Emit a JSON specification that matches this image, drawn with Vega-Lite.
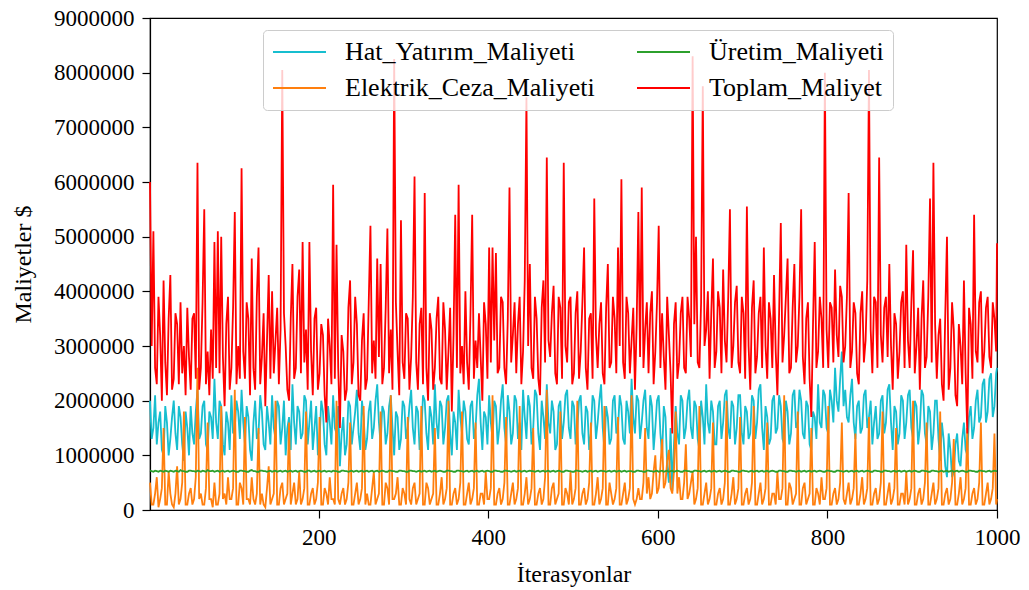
{
"$schema":"https://vega.github.io/schema/vega-lite/v6.json",
"width":847,"height":492,
"autosize":{"type":"none"},
"padding":{"left":150,"top":18,"right":32,"bottom":80},
"data":{"values":[
{"i":1,"hat":2.0e6,"ceza":5e5,"uret":7.2e5,"top":6.0e6},
{"i":3,"hat":1.3e6,"ceza":1e5,"uret":7.1e5,"top":3.0e6},
{"i":5,"hat":1.5e6,"ceza":1e5,"uret":7.0e5,"top":5.1e6},
{"i":7,"hat":2.1e6,"ceza":3e5,"uret":7.2e5,"top":2.6e6},
{"i":9,"hat":1.2e6,"ceza":6e5,"uret":7.1e5,"top":2.3e6},
{"i":11,"hat":1.6e6,"ceza":5e4,"uret":7.0e5,"top":3.9e6},
{"i":13,"hat":1.8e6,"ceza":2e5,"uret":7.2e5,"top":3.2e6},
{"i":15,"hat":1.1e6,"ceza":4e5,"uret":7.1e5,"top":2.0e6},
{"i":17,"hat":1.0e6,"ceza":1.5e6,"uret":7.0e5,"top":4.2e6},
{"i":19,"hat":1.9e6,"ceza":1e5,"uret":7.2e5,"top":2.7e6},
{"i":21,"hat":1.6e6,"ceza":1e5,"uret":7.1e5,"top":2.1e6},
{"i":23,"hat":1.0e6,"ceza":7e5,"uret":7.0e5,"top":3.5e6},
{"i":25,"hat":1.3e6,"ceza":3e5,"uret":7.2e5,"top":4.3e6},
{"i":27,"hat":1.7e6,"ceza":1e5,"uret":7.1e5,"top":2.2e6},
{"i":29,"hat":2.0e6,"ceza":5e4,"uret":7.0e5,"top":2.4e6},
{"i":31,"hat":1.4e6,"ceza":3e5,"uret":7.2e5,"top":3.6e6},
{"i":33,"hat":1.1e6,"ceza":8e5,"uret":7.1e5,"top":3.4e6},
{"i":35,"hat":1.9e6,"ceza":1e5,"uret":7.0e5,"top":2.3e6},
{"i":37,"hat":1.7e6,"ceza":2e5,"uret":7.3e5,"top":3.8e6},
{"i":39,"hat":1.2e6,"ceza":5e5,"uret":7.1e5,"top":2.5e6},
{"i":41,"hat":0.9e6,"ceza":1.8e6,"uret":7.1e5,"top":3.0e6},
{"i":43,"hat":1.8e6,"ceza":1e5,"uret":7.0e5,"top":2.1e6},
{"i":45,"hat":1.5e6,"ceza":1e5,"uret":7.0e5,"top":3.7e6},
{"i":47,"hat":1.0e6,"ceza":3e5,"uret":7.2e5,"top":2.8e6},
{"i":49,"hat":1.9e6,"ceza":4e5,"uret":7.2e5,"top":2.2e6},
{"i":51,"hat":1.4e6,"ceza":1e5,"uret":7.1e5,"top":3.5e6},
{"i":53,"hat":1.2e6,"ceza":2e5,"uret":7.1e5,"top":3.6e6},
{"i":55,"hat":1.8e6,"ceza":6e5,"uret":7.0e5,"top":2.4e6},
{"i":57,"hat":2.2e6,"ceza":2.6e6,"uret":7.2e5,"top":6.35e6},
{"i":59,"hat":1.3e6,"ceza":2e5,"uret":7.1e5,"top":2.2e6},
{"i":61,"hat":1.4e6,"ceza":3e5,"uret":7.0e5,"top":2.6e6},
{"i":63,"hat":1.9e6,"ceza":1e5,"uret":7.2e5,"top":3.8e6},
{"i":65,"hat":2.0e6,"ceza":1e5,"uret":7.1e5,"top":5.5e6},
{"i":67,"hat":1.2e6,"ceza":4e5,"uret":7.0e5,"top":2.3e6},
{"i":69,"hat":1.1e6,"ceza":1.6e6,"uret":7.3e5,"top":2.9e6},
{"i":71,"hat":1.8e6,"ceza":2e5,"uret":7.1e5,"top":2.1e6},
{"i":73,"hat":1.7e6,"ceza":2e5,"uret":7.1e5,"top":3.3e6},
{"i":75,"hat":1.3e6,"ceza":5e4,"uret":7.2e5,"top":2.4e6},
{"i":77,"hat":2.4e6,"ceza":5e5,"uret":7.0e5,"top":4.9e6},
{"i":79,"hat":1.6e6,"ceza":1e5,"uret":7.1e5,"top":2.6e6},
{"i":81,"hat":1.3e6,"ceza":1e5,"uret":7.2e5,"top":5.1e6},
{"i":83,"hat":2.0e6,"ceza":3e5,"uret":7.0e5,"top":2.5e6},
{"i":85,"hat":1.9e6,"ceza":1.9e6,"uret":7.1e5,"top":5.0e6},
{"i":87,"hat":1.2e6,"ceza":2e5,"uret":7.2e5,"top":2.8e6},
{"i":89,"hat":1.0e6,"ceza":3e5,"uret":7.0e5,"top":1.9e6},
{"i":91,"hat":1.8e6,"ceza":1e5,"uret":7.1e5,"top":3.4e6},
{"i":93,"hat":1.6e6,"ceza":6e5,"uret":7.2e5,"top":3.9e6},
{"i":95,"hat":1.1e6,"ceza":2e5,"uret":7.0e5,"top":2.2e6},
{"i":97,"hat":2.1e6,"ceza":2e5,"uret":7.1e5,"top":2.6e6},
{"i":99,"hat":1.4e6,"ceza":4e5,"uret":7.2e5,"top":3.7e6},
{"i":101,"hat":1.5e6,"ceza":2.2e6,"uret":7.1e5,"top":5.45e6},
{"i":103,"hat":2.0e6,"ceza":1e5,"uret":7.0e5,"top":2.3e6},
{"i":105,"hat":1.8e6,"ceza":1e5,"uret":7.0e5,"top":3.0e6},
{"i":107,"hat":1.3e6,"ceza":5e5,"uret":7.2e5,"top":2.4e6},
{"i":109,"hat":2.2e6,"ceza":4e5,"uret":7.2e5,"top":6.25e6},
{"i":111,"hat":1.6e6,"ceza":1e5,"uret":7.1e5,"top":2.9e6},
{"i":113,"hat":1.2e6,"ceza":1.7e6,"uret":7.1e5,"top":2.4e6},
{"i":115,"hat":1.9e6,"ceza":2e5,"uret":7.0e5,"top":3.8e6},
{"i":117,"hat":1.7e6,"ceza":2e5,"uret":7.0e5,"top":3.5e6},
{"i":119,"hat":1.1e6,"ceza":1e5,"uret":7.2e5,"top":2.1e6},
{"i":121,"hat":0.9e6,"ceza":6e5,"uret":7.3e5,"top":4.6e6},
{"i":123,"hat":1.6e6,"ceza":2e5,"uret":7.1e5,"top":2.6e6},
{"i":125,"hat":2.0e6,"ceza":1e5,"uret":7.1e5,"top":2.2e6},
{"i":127,"hat":1.3e6,"ceza":3e5,"uret":7.0e5,"top":3.9e6},
{"i":129,"hat":1.4e6,"ceza":1.5e6,"uret":7.0e5,"top":4.8e6},
{"i":131,"hat":2.1e6,"ceza":1e5,"uret":7.2e5,"top":2.3e6},
{"i":133,"hat":1.8e6,"ceza":3e5,"uret":7.2e5,"top":2.8e6},
{"i":135,"hat":1.2e6,"ceza":1e5,"uret":7.1e5,"top":3.6e6},
{"i":137,"hat":1.1e6,"ceza":5e4,"uret":7.1e5,"top":1.9e6},
{"i":139,"hat":1.9e6,"ceza":4e5,"uret":7.0e5,"top":3.1e6},
{"i":141,"hat":1.6e6,"ceza":8e5,"uret":7.1e5,"top":4.3e6},
{"i":143,"hat":1.2e6,"ceza":1e5,"uret":7.2e5,"top":2.4e6},
{"i":145,"hat":2.1e6,"ceza":2e5,"uret":7.0e5,"top":4.0e6},
{"i":147,"hat":1.5e6,"ceza":3e5,"uret":7.1e5,"top":2.5e6},
{"i":149,"hat":1.3e6,"ceza":2.0e6,"uret":7.2e5,"top":3.1e6},
{"i":151,"hat":2.0e6,"ceza":1e5,"uret":7.0e5,"top":3.7e6},
{"i":153,"hat":1.9e6,"ceza":1e5,"uret":7.1e5,"top":2.3e6},
{"i":155,"hat":1.2e6,"ceza":4e5,"uret":7.2e5,"top":3.3e6},
{"i":157,"hat":1.5e6,"ceza":5e5,"uret":7.0e5,"top":8.05e6},
{"i":159,"hat":2.0e6,"ceza":1e5,"uret":7.1e5,"top":3.6e6},
{"i":161,"hat":1.0e6,"ceza":2e5,"uret":7.2e5,"top":3.0e6},
{"i":163,"hat":1.5e6,"ceza":3e5,"uret":7.0e5,"top":2.2e6},
{"i":165,"hat":1.7e6,"ceza":1.6e6,"uret":7.1e5,"top":2.0e6},
{"i":167,"hat":1.1e6,"ceza":1e5,"uret":7.2e5,"top":3.5e6},
{"i":169,"hat":2.3e6,"ceza":3e5,"uret":7.0e5,"top":4.5e6},
{"i":171,"hat":1.6e6,"ceza":5e5,"uret":7.1e5,"top":2.4e6},
{"i":173,"hat":1.2e6,"ceza":1e5,"uret":7.2e5,"top":2.6e6},
{"i":175,"hat":1.9e6,"ceza":2e5,"uret":7.0e5,"top":3.9e6},
{"i":177,"hat":1.8e6,"ceza":7e5,"uret":7.1e5,"top":4.4e6},
{"i":179,"hat":1.3e6,"ceza":1e5,"uret":7.2e5,"top":2.5e6},
{"i":181,"hat":1.4e6,"ceza":2e5,"uret":7.1e5,"top":4.9e6},
{"i":183,"hat":2.1e6,"ceza":4e5,"uret":7.0e5,"top":2.7e6},
{"i":185,"hat":2.0e6,"ceza":1.8e6,"uret":7.0e5,"top":3.3e6},
{"i":187,"hat":1.2e6,"ceza":1e5,"uret":7.2e5,"top":2.2e6},
{"i":189,"hat":1.6e6,"ceza":1e5,"uret":7.2e5,"top":4.9e6},
{"i":191,"hat":2.0e6,"ceza":3e5,"uret":7.0e5,"top":2.9e6},
{"i":193,"hat":1.1e6,"ceza":4e5,"uret":7.1e5,"top":2.1e6},
{"i":195,"hat":1.5e6,"ceza":1e5,"uret":7.2e5,"top":3.5e6},
{"i":197,"hat":1.9e6,"ceza":2e5,"uret":7.0e5,"top":3.7e6},
{"i":199,"hat":1.0e6,"ceza":5e5,"uret":7.1e5,"top":2.2e6},
{"i":201,"hat":1.3e6,"ceza":1.7e6,"uret":7.2e5,"top":2.5e6},
{"i":203,"hat":2.0e6,"ceza":1e5,"uret":7.0e5,"top":3.4e6},
{"i":205,"hat":1.8e6,"ceza":1e5,"uret":7.1e5,"top":3.2e6},
{"i":207,"hat":1.2e6,"ceza":4e5,"uret":7.2e5,"top":2.1e6},
{"i":209,"hat":1.0e6,"ceza":3e5,"uret":7.0e5,"top":1.6e6},
{"i":211,"hat":1.9e6,"ceza":1e5,"uret":7.1e5,"top":3.5e6},
{"i":213,"hat":1.6e6,"ceza":6e5,"uret":7.1e5,"top":3.0e6},
{"i":215,"hat":1.2e6,"ceza":2e5,"uret":7.0e5,"top":2.3e6},
{"i":217,"hat":2.1e6,"ceza":2e5,"uret":7.2e5,"top":5.95e6},
{"i":219,"hat":1.5e6,"ceza":1e5,"uret":7.1e5,"top":2.4e6},
{"i":221,"hat":1.4e6,"ceza":2.0e6,"uret":7.1e5,"top":4.85e6},
{"i":223,"hat":1.9e6,"ceza":2e5,"uret":7.0e5,"top":2.6e6},
{"i":225,"hat":0.8e6,"ceza":1e5,"uret":7.0e5,"top":1.5e6},
{"i":227,"hat":1.4e6,"ceza":3e5,"uret":7.2e5,"top":3.2e6},
{"i":229,"hat":1.7e6,"ceza":4e5,"uret":7.2e5,"top":2.9e6},
{"i":231,"hat":1.0e6,"ceza":1e5,"uret":7.1e5,"top":2.0e6},
{"i":233,"hat":1.2e6,"ceza":2e5,"uret":7.1e5,"top":2.2e6},
{"i":235,"hat":2.0e6,"ceza":5e5,"uret":7.0e5,"top":3.7e6},
{"i":237,"hat":1.9e6,"ceza":1.6e6,"uret":7.1e5,"top":4.2e6},
{"i":239,"hat":1.2e6,"ceza":1e5,"uret":7.2e5,"top":2.3e6},
{"i":241,"hat":1.5e6,"ceza":1e5,"uret":7.0e5,"top":2.7e6},
{"i":243,"hat":1.8e6,"ceza":3e5,"uret":7.1e5,"top":3.9e6},
{"i":245,"hat":2.2e6,"ceza":5e5,"uret":7.2e5,"top":3.4e6},
{"i":247,"hat":1.4e6,"ceza":1e5,"uret":7.0e5,"top":2.1e6},
{"i":249,"hat":1.1e6,"ceza":2e5,"uret":7.1e5,"top":2.0e6},
{"i":251,"hat":2.0e6,"ceza":4e5,"uret":7.2e5,"top":3.1e6},
{"i":253,"hat":1.7e6,"ceza":1.9e6,"uret":7.0e5,"top":3.6e6},
{"i":255,"hat":1.1e6,"ceza":1e5,"uret":7.1e5,"top":2.2e6},
{"i":257,"hat":1.3e6,"ceza":3e5,"uret":7.2e5,"top":2.4e6},
{"i":259,"hat":1.8e6,"ceza":1e5,"uret":7.0e5,"top":3.8e6},
{"i":261,"hat":2.0e6,"ceza":1e5,"uret":7.1e5,"top":5.2e6},
{"i":263,"hat":1.3e6,"ceza":4e5,"uret":7.2e5,"top":2.5e6},
{"i":265,"hat":1.5e6,"ceza":7e5,"uret":7.0e5,"top":3.1e6},
{"i":267,"hat":2.0e6,"ceza":1e5,"uret":7.1e5,"top":2.4e6},
{"i":269,"hat":2.3e6,"ceza":2e5,"uret":7.2e5,"top":4.6e6},
{"i":271,"hat":1.6e6,"ceza":3e5,"uret":7.0e5,"top":2.8e6},
{"i":273,"hat":1.2e6,"ceza":1.8e6,"uret":7.1e5,"top":4.5e6},
{"i":275,"hat":1.9e6,"ceza":1e5,"uret":7.2e5,"top":2.3e6},
{"i":277,"hat":1.8e6,"ceza":1e5,"uret":7.1e5,"top":2.6e6},
{"i":279,"hat":1.2e6,"ceza":5e5,"uret":7.0e5,"top":3.7e6},
{"i":281,"hat":1.4e6,"ceza":4e5,"uret":7.0e5,"top":5.15e6},
{"i":283,"hat":1.9e6,"ceza":1e5,"uret":7.2e5,"top":2.5e6},
{"i":285,"hat":2.1e6,"ceza":2.1e6,"uret":7.2e5,"top":3.3e6},
{"i":287,"hat":1.5e6,"ceza":2e5,"uret":7.1e5,"top":2.2e6},
{"i":289,"hat":1.0e6,"ceza":2e5,"uret":7.1e5,"top":8.25e6},
{"i":291,"hat":1.8e6,"ceza":3e5,"uret":7.0e5,"top":3.8e6},
{"i":293,"hat":1.7e6,"ceza":6e5,"uret":7.0e5,"top":2.9e6},
{"i":295,"hat":1.1e6,"ceza":1e5,"uret":7.2e5,"top":2.1e6},
{"i":297,"hat":1.3e6,"ceza":1e5,"uret":7.2e5,"top":5.3e6},
{"i":299,"hat":2.0e6,"ceza":4e5,"uret":7.1e5,"top":2.7e6},
{"i":301,"hat":1.9e6,"ceza":3e5,"uret":7.1e5,"top":2.4e6},
{"i":303,"hat":1.3e6,"ceza":1e5,"uret":7.0e5,"top":3.6e6},
{"i":305,"hat":1.5e6,"ceza":1.7e6,"uret":7.0e5,"top":3.5e6},
{"i":307,"hat":1.9e6,"ceza":2e5,"uret":7.2e5,"top":2.2e6},
{"i":309,"hat":2.2e6,"ceza":1e5,"uret":7.2e5,"top":2.8e6},
{"i":311,"hat":1.5e6,"ceza":4e5,"uret":7.1e5,"top":3.9e6},
{"i":313,"hat":1.2e6,"ceza":5e5,"uret":7.1e5,"top":6.1e6},
{"i":315,"hat":1.9e6,"ceza":1e5,"uret":7.0e5,"top":2.7e6},
{"i":317,"hat":1.8e6,"ceza":2e5,"uret":7.1e5,"top":2.2e6},
{"i":319,"hat":1.1e6,"ceza":3e5,"uret":7.2e5,"top":3.4e6},
{"i":321,"hat":1.4e6,"ceza":1.9e6,"uret":7.0e5,"top":3.7e6},
{"i":323,"hat":2.1e6,"ceza":1e5,"uret":7.1e5,"top":2.3e6},
{"i":325,"hat":2.0e6,"ceza":1e5,"uret":7.2e5,"top":5.8e6},
{"i":327,"hat":1.4e6,"ceza":5e5,"uret":7.0e5,"top":2.6e6},
{"i":329,"hat":1.1e6,"ceza":4e5,"uret":7.1e5,"top":2.0e6},
{"i":331,"hat":1.9e6,"ceza":1e5,"uret":7.2e5,"top":3.6e6},
{"i":333,"hat":1.7e6,"ceza":2e5,"uret":7.0e5,"top":3.3e6},
{"i":335,"hat":1.2e6,"ceza":3e5,"uret":7.1e5,"top":2.2e6},
{"i":337,"hat":2.3e6,"ceza":1.5e6,"uret":7.2e5,"top":2.6e6},
{"i":339,"hat":1.6e6,"ceza":1e5,"uret":7.0e5,"top":3.5e6},
{"i":341,"hat":1.3e6,"ceza":1e5,"uret":7.1e5,"top":3.9e6},
{"i":343,"hat":2.0e6,"ceza":3e5,"uret":7.2e5,"top":2.4e6},
{"i":345,"hat":1.9e6,"ceza":6e5,"uret":7.1e5,"top":2.3e6},
{"i":347,"hat":1.2e6,"ceza":1e5,"uret":7.0e5,"top":3.8e6},
{"i":349,"hat":1.5e6,"ceza":2e5,"uret":7.0e5,"top":3.3e6},
{"i":351,"hat":2.0e6,"ceza":4e5,"uret":7.2e5,"top":2.2e6},
{"i":353,"hat":2.1e6,"ceza":2.0e6,"uret":7.2e5,"top":2.9e6},
{"i":355,"hat":1.4e6,"ceza":1e5,"uret":7.1e5,"top":3.7e6},
{"i":357,"hat":1.0e6,"ceza":1e5,"uret":7.1e5,"top":1.8e6},
{"i":359,"hat":1.8e6,"ceza":3e5,"uret":7.0e5,"top":3.2e6},
{"i":361,"hat":1.6e6,"ceza":4e5,"uret":7.0e5,"top":5.4e6},
{"i":363,"hat":1.1e6,"ceza":1e5,"uret":7.2e5,"top":2.6e6},
{"i":365,"hat":2.2e6,"ceza":2e5,"uret":7.2e5,"top":5.95e6},
{"i":367,"hat":1.7e6,"ceza":5e5,"uret":7.1e5,"top":2.5e6},
{"i":369,"hat":1.4e6,"ceza":1.8e6,"uret":7.1e5,"top":3.0e6},
{"i":371,"hat":2.0e6,"ceza":1e5,"uret":7.0e5,"top":2.3e6},
{"i":373,"hat":1.8e6,"ceza":1e5,"uret":7.1e5,"top":4.0e6},
{"i":375,"hat":1.3e6,"ceza":3e5,"uret":7.2e5,"top":2.7e6},
{"i":377,"hat":1.2e6,"ceza":5e5,"uret":7.0e5,"top":2.2e6},
{"i":379,"hat":1.9e6,"ceza":1e5,"uret":7.1e5,"top":3.6e6},
{"i":381,"hat":2.0e6,"ceza":2e5,"uret":7.2e5,"top":5.4e6},
{"i":383,"hat":1.3e6,"ceza":4e5,"uret":7.0e5,"top":2.4e6},
{"i":385,"hat":1.5e6,"ceza":1.6e6,"uret":7.1e5,"top":3.1e6},
{"i":387,"hat":2.1e6,"ceza":1e5,"uret":7.2e5,"top":2.6e6},
{"i":389,"hat":2.4e6,"ceza":1e5,"uret":7.0e5,"top":3.6e6},
{"i":391,"hat":1.6e6,"ceza":3e5,"uret":7.1e5,"top":2.8e6},
{"i":393,"hat":1.1e6,"ceza":3e5,"uret":7.2e5,"top":2.0e6},
{"i":395,"hat":1.8e6,"ceza":1e5,"uret":7.0e5,"top":3.8e6},
{"i":397,"hat":1.7e6,"ceza":7e5,"uret":7.1e5,"top":3.4e6},
{"i":399,"hat":1.2e6,"ceza":2e5,"uret":7.2e5,"top":2.4e6},
{"i":401,"hat":2.1e6,"ceza":2e5,"uret":7.1e5,"top":4.8e6},
{"i":403,"hat":1.6e6,"ceza":4e5,"uret":7.0e5,"top":2.7e6},
{"i":405,"hat":1.3e6,"ceza":2.1e6,"uret":7.0e5,"top":4.8e6},
{"i":407,"hat":2.0e6,"ceza":1e5,"uret":7.2e5,"top":3.1e6},
{"i":409,"hat":1.9e6,"ceza":1e5,"uret":7.2e5,"top":4.7e6},
{"i":411,"hat":1.2e6,"ceza":3e5,"uret":7.1e5,"top":2.5e6},
{"i":413,"hat":1.5e6,"ceza":4e5,"uret":7.1e5,"top":2.6e6},
{"i":415,"hat":2.0e6,"ceza":1e5,"uret":7.0e5,"top":3.9e6},
{"i":417,"hat":2.3e6,"ceza":2e5,"uret":7.0e5,"top":3.8e6},
{"i":419,"hat":1.5e6,"ceza":5e5,"uret":7.2e5,"top":2.6e6},
{"i":421,"hat":1.2e6,"ceza":1.7e6,"uret":7.2e5,"top":2.3e6},
{"i":423,"hat":2.1e6,"ceza":1e5,"uret":7.1e5,"top":3.5e6},
{"i":425,"hat":1.8e6,"ceza":1e5,"uret":7.1e5,"top":5.9e6},
{"i":427,"hat":1.2e6,"ceza":3e5,"uret":7.0e5,"top":2.7e6},
{"i":429,"hat":1.4e6,"ceza":5e5,"uret":7.1e5,"top":3.2e6},
{"i":431,"hat":2.1e6,"ceza":1e5,"uret":7.2e5,"top":3.8e6},
{"i":433,"hat":2.0e6,"ceza":2e5,"uret":7.0e5,"top":2.5e6},
{"i":435,"hat":1.3e6,"ceza":4e5,"uret":7.1e5,"top":3.4e6},
{"i":437,"hat":1.6e6,"ceza":1.9e6,"uret":7.2e5,"top":3.9e6},
{"i":439,"hat":1.1e6,"ceza":1e5,"uret":7.0e5,"top":2.3e6},
{"i":441,"hat":2.2e6,"ceza":1e5,"uret":7.1e5,"top":2.9e6},
{"i":443,"hat":1.7e6,"ceza":3e5,"uret":7.2e5,"top":4.2e6},
{"i":445,"hat":1.3e6,"ceza":6e5,"uret":7.0e5,"top":7.55e6},
{"i":447,"hat":2.1e6,"ceza":1e5,"uret":7.1e5,"top":3.0e6},
{"i":449,"hat":1.9e6,"ceza":2e5,"uret":7.2e5,"top":4.5e6},
{"i":451,"hat":1.2e6,"ceza":4e5,"uret":7.1e5,"top":2.6e6},
{"i":453,"hat":1.5e6,"ceza":1.5e6,"uret":7.1e5,"top":2.4e6},
{"i":455,"hat":2.2e6,"ceza":1e5,"uret":7.0e5,"top":3.9e6},
{"i":457,"hat":2.1e6,"ceza":1e5,"uret":7.1e5,"top":3.5e6},
{"i":459,"hat":1.4e6,"ceza":3e5,"uret":7.2e5,"top":2.4e6},
{"i":461,"hat":1.1e6,"ceza":4e5,"uret":7.0e5,"top":2.1e6},
{"i":463,"hat":2.0e6,"ceza":1e5,"uret":7.1e5,"top":3.7e6},
{"i":465,"hat":1.7e6,"ceza":2e5,"uret":7.2e5,"top":4.2e6},
{"i":467,"hat":1.3e6,"ceza":6e5,"uret":7.0e5,"top":2.7e6},
{"i":469,"hat":2.3e6,"ceza":2.2e6,"uret":7.1e5,"top":6.45e6},
{"i":471,"hat":1.6e6,"ceza":1e5,"uret":7.2e5,"top":3.1e6},
{"i":473,"hat":1.4e6,"ceza":1e5,"uret":7.0e5,"top":2.8e6},
{"i":475,"hat":2.0e6,"ceza":4e5,"uret":7.1e5,"top":3.6e6},
{"i":477,"hat":1.8e6,"ceza":5e5,"uret":7.2e5,"top":4.1e6},
{"i":479,"hat":1.1e6,"ceza":1e5,"uret":7.0e5,"top":2.5e6},
{"i":481,"hat":1.2e6,"ceza":2e5,"uret":7.1e5,"top":2.3e6},
{"i":483,"hat":1.9e6,"ceza":3e5,"uret":7.2e5,"top":3.9e6},
{"i":485,"hat":2.0e6,"ceza":1.8e6,"uret":7.1e5,"top":3.7e6},
{"i":487,"hat":1.3e6,"ceza":1e5,"uret":7.0e5,"top":2.4e6},
{"i":489,"hat":1.6e6,"ceza":1e5,"uret":7.0e5,"top":6.35e6},
{"i":491,"hat":2.1e6,"ceza":4e5,"uret":7.2e5,"top":3.0e6},
{"i":493,"hat":2.2e6,"ceza":3e5,"uret":7.2e5,"top":2.7e6},
{"i":495,"hat":1.5e6,"ceza":1e5,"uret":7.1e5,"top":3.8e6},
{"i":497,"hat":1.3e6,"ceza":7e5,"uret":7.1e5,"top":3.9e6},
{"i":499,"hat":2.0e6,"ceza":1e5,"uret":7.0e5,"top":2.3e6},
{"i":501,"hat":1.9e6,"ceza":2e5,"uret":7.0e5,"top":2.5e6},
{"i":503,"hat":1.2e6,"ceza":4e5,"uret":7.2e5,"top":3.6e6},
{"i":505,"hat":1.5e6,"ceza":2.0e6,"uret":7.2e5,"top":4.0e6},
{"i":507,"hat":2.0e6,"ceza":1e5,"uret":7.1e5,"top":2.4e6},
{"i":509,"hat":2.1e6,"ceza":1e5,"uret":7.1e5,"top":2.9e6},
{"i":511,"hat":1.4e6,"ceza":3e5,"uret":7.0e5,"top":3.8e6},
{"i":513,"hat":1.2e6,"ceza":4e5,"uret":7.1e5,"top":4.8e6},
{"i":515,"hat":1.9e6,"ceza":1e5,"uret":7.2e5,"top":2.6e6},
{"i":517,"hat":1.8e6,"ceza":2e5,"uret":7.0e5,"top":2.2e6},
{"i":519,"hat":1.1e6,"ceza":5e5,"uret":7.1e5,"top":3.5e6},
{"i":521,"hat":1.4e6,"ceza":1.6e6,"uret":7.2e5,"top":3.6e6},
{"i":523,"hat":2.1e6,"ceza":1e5,"uret":7.0e5,"top":2.4e6},
{"i":525,"hat":2.0e6,"ceza":1e5,"uret":7.1e5,"top":5.7e6},
{"i":527,"hat":1.3e6,"ceza":3e5,"uret":7.2e5,"top":3.2e6},
{"i":529,"hat":1.6e6,"ceza":6e5,"uret":7.0e5,"top":2.6e6},
{"i":531,"hat":2.0e6,"ceza":1e5,"uret":7.1e5,"top":3.4e6},
{"i":533,"hat":2.3e6,"ceza":2e5,"uret":7.2e5,"top":3.8e6},
{"i":535,"hat":1.5e6,"ceza":4e5,"uret":7.1e5,"top":2.5e6},
{"i":537,"hat":1.1e6,"ceza":1.9e6,"uret":7.1e5,"top":2.3e6},
{"i":539,"hat":1.9e6,"ceza":1e5,"uret":7.0e5,"top":3.7e6},
{"i":541,"hat":1.7e6,"ceza":1e5,"uret":7.1e5,"top":4.5e6},
{"i":543,"hat":1.2e6,"ceza":5e5,"uret":7.2e5,"top":2.6e6},
{"i":545,"hat":1.3e6,"ceza":3e5,"uret":7.0e5,"top":2.7e6},
{"i":547,"hat":2.0e6,"ceza":1e5,"uret":7.1e5,"top":3.9e6},
{"i":549,"hat":2.1e6,"ceza":2e5,"uret":7.2e5,"top":3.5e6},
{"i":551,"hat":1.4e6,"ceza":4e5,"uret":7.0e5,"top":2.5e6},
{"i":553,"hat":1.5e6,"ceza":1.7e6,"uret":7.1e5,"top":4.8e6},
{"i":555,"hat":2.1e6,"ceza":1e5,"uret":7.2e5,"top":3.0e6},
{"i":557,"hat":1.9e6,"ceza":1e5,"uret":7.0e5,"top":6.05e6},
{"i":559,"hat":1.3e6,"ceza":3e5,"uret":7.1e5,"top":2.7e6},
{"i":561,"hat":1.2e6,"ceza":5e5,"uret":7.2e5,"top":2.4e6},
{"i":563,"hat":2.0e6,"ceza":1e5,"uret":7.0e5,"top":3.9e6},
{"i":565,"hat":1.8e6,"ceza":2e5,"uret":7.1e5,"top":3.6e6},
{"i":567,"hat":1.4e6,"ceza":4e5,"uret":7.1e5,"top":2.5e6},
{"i":569,"hat":2.4e6,"ceza":2.1e6,"uret":7.1e5,"top":3.1e6},
{"i":571,"hat":1.7e6,"ceza":2e5,"uret":7.0e5,"top":3.7e6},
{"i":573,"hat":1.4e6,"ceza":1e5,"uret":7.0e5,"top":2.2e6},
{"i":575,"hat":2.1e6,"ceza":2e5,"uret":7.2e5,"top":3.4e6},
{"i":577,"hat":2.0e6,"ceza":4e5,"uret":7.2e5,"top":5.45e6},
{"i":579,"hat":1.3e6,"ceza":2e5,"uret":7.1e5,"top":2.8e6},
{"i":581,"hat":1.6e6,"ceza":2e5,"uret":7.1e5,"top":5.9e6},
{"i":583,"hat":2.0e6,"ceza":5e5,"uret":7.0e5,"top":2.6e6},
{"i":585,"hat":2.2e6,"ceza":1.5e6,"uret":7.0e5,"top":3.3e6},
{"i":587,"hat":1.5e6,"ceza":3e5,"uret":7.2e5,"top":3.8e6},
{"i":589,"hat":1.3e6,"ceza":6e5,"uret":7.2e5,"top":2.5e6},
{"i":591,"hat":2.1e6,"ceza":2e5,"uret":7.1e5,"top":3.6e6},
{"i":593,"hat":1.9e6,"ceza":3e5,"uret":7.1e5,"top":4.0e6},
{"i":595,"hat":1.1e6,"ceza":7e5,"uret":7.0e5,"top":2.3e6},
{"i":597,"hat":1.5e6,"ceza":1.0e6,"uret":7.1e5,"top":2.9e6},
{"i":599,"hat":2.0e6,"ceza":3e5,"uret":7.2e5,"top":3.8e6},
{"i":601,"hat":2.1e6,"ceza":4e5,"uret":7.0e5,"top":5.2e6},
{"i":603,"hat":1.4e6,"ceza":8e5,"uret":7.1e5,"top":2.6e6},
{"i":605,"hat":1.0e6,"ceza":1.3e6,"uret":7.2e5,"top":3.6e6},
{"i":607,"hat":1.9e6,"ceza":4e5,"uret":7.0e5,"top":2.8e6},
{"i":609,"hat":1.7e6,"ceza":5e5,"uret":7.1e5,"top":2.2e6},
{"i":611,"hat":0.8e6,"ceza":9e5,"uret":7.2e5,"top":3.9e6},
{"i":613,"hat":0.5e6,"ceza":1.1e6,"uret":7.0e5,"top":3.2e6},
{"i":615,"hat":1.5e6,"ceza":4e5,"uret":7.1e5,"top":2.5e6},
{"i":617,"hat":0.35e6,"ceza":3e5,"uret":7.2e5,"top":1.4e6},
{"i":619,"hat":1.2e6,"ceza":7e5,"uret":7.0e5,"top":3.4e6},
{"i":621,"hat":1.9e6,"ceza":1.8e6,"uret":7.1e5,"top":3.8e6},
{"i":623,"hat":1.4e6,"ceza":3e5,"uret":7.2e5,"top":2.4e6},
{"i":625,"hat":1.2e6,"ceza":6e5,"uret":7.1e5,"top":2.7e6},
{"i":627,"hat":2.1e6,"ceza":2e5,"uret":7.0e5,"top":3.6e6},
{"i":629,"hat":2.0e6,"ceza":2e5,"uret":7.0e5,"top":3.9e6},
{"i":631,"hat":1.3e6,"ceza":5e5,"uret":7.2e5,"top":2.6e6},
{"i":633,"hat":1.5e6,"ceza":1.2e6,"uret":7.2e5,"top":2.5e6},
{"i":635,"hat":2.0e6,"ceza":2e5,"uret":7.1e5,"top":3.9e6},
{"i":637,"hat":2.2e6,"ceza":3e5,"uret":7.1e5,"top":3.5e6},
{"i":639,"hat":1.5e6,"ceza":5e5,"uret":7.0e5,"top":2.8e6},
{"i":641,"hat":1.3e6,"ceza":7e5,"uret":7.0e5,"top":8.3e6},
{"i":643,"hat":2.0e6,"ceza":1e5,"uret":7.2e5,"top":3.4e6},
{"i":645,"hat":1.9e6,"ceza":2e5,"uret":7.2e5,"top":5.0e6},
{"i":647,"hat":1.3e6,"ceza":4e5,"uret":7.1e5,"top":2.7e6},
{"i":649,"hat":1.1e6,"ceza":1.9e6,"uret":7.1e5,"top":2.6e6},
{"i":651,"hat":2.0e6,"ceza":1e5,"uret":7.0e5,"top":3.8e6},
{"i":653,"hat":1.7e6,"ceza":1e5,"uret":7.1e5,"top":7.75e6},
{"i":655,"hat":1.2e6,"ceza":3e5,"uret":7.2e5,"top":3.0e6},
{"i":657,"hat":2.3e6,"ceza":5e5,"uret":7.0e5,"top":3.3e6},
{"i":659,"hat":1.6e6,"ceza":1e5,"uret":7.1e5,"top":4.0e6},
{"i":661,"hat":1.4e6,"ceza":2e5,"uret":7.2e5,"top":2.4e6},
{"i":663,"hat":2.0e6,"ceza":4e5,"uret":7.0e5,"top":3.6e6},
{"i":665,"hat":1.8e6,"ceza":1.6e6,"uret":7.1e5,"top":4.6e6},
{"i":667,"hat":1.2e6,"ceza":1e5,"uret":7.2e5,"top":2.6e6},
{"i":669,"hat":1.2e6,"ceza":1e5,"uret":7.0e5,"top":2.9e6},
{"i":671,"hat":1.9e6,"ceza":3e5,"uret":7.1e5,"top":4.0e6},
{"i":673,"hat":2.0e6,"ceza":4e5,"uret":7.2e5,"top":3.7e6},
{"i":675,"hat":1.3e6,"ceza":1e5,"uret":7.0e5,"top":2.5e6},
{"i":677,"hat":1.6e6,"ceza":2e5,"uret":7.1e5,"top":4.4e6},
{"i":679,"hat":2.1e6,"ceza":5e5,"uret":7.2e5,"top":3.1e6},
{"i":681,"hat":2.2e6,"ceza":2.0e6,"uret":7.1e5,"top":2.7e6},
{"i":683,"hat":1.5e6,"ceza":1e5,"uret":7.0e5,"top":3.9e6},
{"i":685,"hat":1.3e6,"ceza":1e5,"uret":7.0e5,"top":5.5e6},
{"i":687,"hat":2.0e6,"ceza":3e5,"uret":7.2e5,"top":2.6e6},
{"i":689,"hat":1.9e6,"ceza":6e5,"uret":7.2e5,"top":3.0e6},
{"i":691,"hat":1.2e6,"ceza":1e5,"uret":7.1e5,"top":3.8e6},
{"i":693,"hat":1.5e6,"ceza":2e5,"uret":7.1e5,"top":4.1e6},
{"i":695,"hat":2.1e6,"ceza":4e5,"uret":7.0e5,"top":2.7e6},
{"i":697,"hat":2.1e6,"ceza":1.7e6,"uret":7.0e5,"top":2.5e6},
{"i":699,"hat":1.4e6,"ceza":1e5,"uret":7.2e5,"top":3.9e6},
{"i":701,"hat":1.2e6,"ceza":1e5,"uret":7.2e5,"top":3.6e6},
{"i":703,"hat":1.9e6,"ceza":3e5,"uret":7.1e5,"top":2.4e6},
{"i":705,"hat":1.8e6,"ceza":4e5,"uret":7.1e5,"top":5.55e6},
{"i":707,"hat":1.3e6,"ceza":1e5,"uret":7.0e5,"top":3.0e6},
{"i":709,"hat":1.4e6,"ceza":2e5,"uret":7.1e5,"top":2.2e6},
{"i":711,"hat":2.1e6,"ceza":5e5,"uret":7.2e5,"top":3.7e6},
{"i":713,"hat":2.0e6,"ceza":1.9e6,"uret":7.0e5,"top":4.2e6},
{"i":715,"hat":1.3e6,"ceza":1e5,"uret":7.1e5,"top":2.5e6},
{"i":717,"hat":1.6e6,"ceza":1e5,"uret":7.2e5,"top":2.8e6},
{"i":719,"hat":2.2e6,"ceza":3e5,"uret":7.0e5,"top":3.6e6},
{"i":721,"hat":2.3e6,"ceza":5e5,"uret":7.1e5,"top":3.9e6},
{"i":723,"hat":1.5e6,"ceza":1e5,"uret":7.2e5,"top":2.6e6},
{"i":725,"hat":1.1e6,"ceza":2e5,"uret":7.0e5,"top":4.8e6},
{"i":727,"hat":1.9e6,"ceza":4e5,"uret":7.1e5,"top":3.0e6},
{"i":729,"hat":1.7e6,"ceza":1.6e6,"uret":7.2e5,"top":2.4e6},
{"i":731,"hat":1.2e6,"ceza":1e5,"uret":7.0e5,"top":3.8e6},
{"i":733,"hat":1.3e6,"ceza":1e5,"uret":7.1e5,"top":3.5e6},
{"i":735,"hat":2.0e6,"ceza":3e5,"uret":7.2e5,"top":2.6e6},
{"i":737,"hat":2.1e6,"ceza":3e5,"uret":7.1e5,"top":4.3e6},
{"i":739,"hat":1.4e6,"ceza":1e5,"uret":7.0e5,"top":2.9e6},
{"i":741,"hat":1.5e6,"ceza":7e5,"uret":7.0e5,"top":2.1e6},
{"i":743,"hat":2.1e6,"ceza":2e5,"uret":7.2e5,"top":3.6e6},
{"i":745,"hat":1.9e6,"ceza":2e5,"uret":7.2e5,"top":5.25e6},
{"i":747,"hat":1.3e6,"ceza":4e5,"uret":7.1e5,"top":2.7e6},
{"i":749,"hat":1.2e6,"ceza":2.1e6,"uret":7.1e5,"top":3.2e6},
{"i":751,"hat":2.0e6,"ceza":1e5,"uret":7.0e5,"top":3.9e6},
{"i":753,"hat":1.8e6,"ceza":1e5,"uret":7.0e5,"top":4.6e6},
{"i":755,"hat":1.2e6,"ceza":5e5,"uret":7.2e5,"top":2.5e6},
{"i":757,"hat":1.4e6,"ceza":4e5,"uret":7.2e5,"top":2.6e6},
{"i":759,"hat":2.1e6,"ceza":1e5,"uret":7.1e5,"top":3.7e6},
{"i":761,"hat":2.2e6,"ceza":2e5,"uret":7.1e5,"top":4.5e6},
{"i":763,"hat":1.5e6,"ceza":3e5,"uret":7.0e5,"top":2.7e6},
{"i":765,"hat":1.6e6,"ceza":1.8e6,"uret":7.1e5,"top":3.0e6},
{"i":767,"hat":2.2e6,"ceza":1e5,"uret":7.2e5,"top":3.9e6},
{"i":769,"hat":2.0e6,"ceza":1e5,"uret":7.0e5,"top":5.5e6},
{"i":771,"hat":1.4e6,"ceza":4e5,"uret":7.1e5,"top":2.8e6},
{"i":773,"hat":1.3e6,"ceza":5e5,"uret":7.2e5,"top":2.3e6},
{"i":775,"hat":2.0e6,"ceza":1e5,"uret":7.0e5,"top":3.5e6},
{"i":777,"hat":1.9e6,"ceza":2e5,"uret":7.1e5,"top":3.8e6},
{"i":779,"hat":1.2e6,"ceza":3e5,"uret":7.2e5,"top":2.4e6},
{"i":781,"hat":1.1e6,"ceza":1.5e6,"uret":7.0e5,"top":1.7e6},
{"i":783,"hat":1.8e6,"ceza":1e5,"uret":7.1e5,"top":3.4e6},
{"i":785,"hat":1.7e6,"ceza":1e5,"uret":7.2e5,"top":4.9e6},
{"i":787,"hat":1.3e6,"ceza":4e5,"uret":7.0e5,"top":2.6e6},
{"i":789,"hat":2.3e6,"ceza":3e5,"uret":7.1e5,"top":2.9e6},
{"i":791,"hat":1.6e6,"ceza":1e5,"uret":7.2e5,"top":3.9e6},
{"i":793,"hat":1.5e6,"ceza":6e5,"uret":7.1e5,"top":3.5e6},
{"i":795,"hat":2.2e6,"ceza":2e5,"uret":7.0e5,"top":2.6e6},
{"i":797,"hat":2.1e6,"ceza":2e5,"uret":7.0e5,"top":8.0e6},
{"i":799,"hat":1.5e6,"ceza":4e5,"uret":7.2e5,"top":3.3e6},
{"i":801,"hat":1.4e6,"ceza":1.9e6,"uret":7.2e5,"top":2.6e6},
{"i":803,"hat":2.2e6,"ceza":1e5,"uret":7.1e5,"top":3.8e6},
{"i":805,"hat":2.0e6,"ceza":1e5,"uret":7.1e5,"top":3.7e6},
{"i":807,"hat":1.6e6,"ceza":3e5,"uret":7.0e5,"top":2.7e6},
{"i":809,"hat":2.6e6,"ceza":4e5,"uret":7.0e5,"top":4.4e6},
{"i":811,"hat":2.0e6,"ceza":1e5,"uret":7.2e5,"top":3.2e6},
{"i":813,"hat":1.8e6,"ceza":2e5,"uret":7.2e5,"top":2.8e6},
{"i":815,"hat":2.4e6,"ceza":5e5,"uret":7.1e5,"top":4.1e6},
{"i":817,"hat":2.9e6,"ceza":1.6e6,"uret":7.1e5,"top":3.9e6},
{"i":819,"hat":1.9e6,"ceza":2e5,"uret":7.0e5,"top":2.7e6},
{"i":821,"hat":2.2e6,"ceza":1e5,"uret":7.1e5,"top":3.0e6},
{"i":823,"hat":1.7e6,"ceza":3e5,"uret":7.2e5,"top":3.9e6},
{"i":825,"hat":1.6e6,"ceza":5e5,"uret":7.0e5,"top":5.8e6},
{"i":827,"hat":2.1e6,"ceza":1e5,"uret":7.1e5,"top":2.6e6},
{"i":829,"hat":2.4e6,"ceza":2e5,"uret":7.2e5,"top":2.9e6},
{"i":831,"hat":1.6e6,"ceza":4e5,"uret":7.0e5,"top":3.8e6},
{"i":833,"hat":1.3e6,"ceza":1.4e6,"uret":7.1e5,"top":3.6e6},
{"i":835,"hat":1.9e6,"ceza":1e5,"uret":7.2e5,"top":2.5e6},
{"i":837,"hat":2.0e6,"ceza":1e5,"uret":7.0e5,"top":2.3e6},
{"i":839,"hat":1.4e6,"ceza":3e5,"uret":7.1e5,"top":3.6e6},
{"i":841,"hat":1.5e6,"ceza":6e5,"uret":7.2e5,"top":4.0e6},
{"i":843,"hat":2.1e6,"ceza":1e5,"uret":7.0e5,"top":2.7e6},
{"i":845,"hat":2.2e6,"ceza":2e5,"uret":7.1e5,"top":3.1e6},
{"i":847,"hat":1.5e6,"ceza":4e5,"uret":7.2e5,"top":4.2e6},
{"i":849,"hat":1.7e6,"ceza":1.7e6,"uret":7.1e5,"top":8.05e6},
{"i":851,"hat":2.0e6,"ceza":1e5,"uret":7.0e5,"top":3.3e6},
{"i":853,"hat":1.2e6,"ceza":1e5,"uret":7.0e5,"top":2.5e6},
{"i":855,"hat":1.6e6,"ceza":3e5,"uret":7.2e5,"top":3.9e6},
{"i":857,"hat":1.9e6,"ceza":4e5,"uret":7.2e5,"top":3.8e6},
{"i":859,"hat":1.3e6,"ceza":1e5,"uret":7.1e5,"top":2.6e6},
{"i":861,"hat":1.4e6,"ceza":2e5,"uret":7.1e5,"top":6.45e6},
{"i":863,"hat":2.0e6,"ceza":5e5,"uret":7.0e5,"top":3.2e6},
{"i":865,"hat":2.1e6,"ceza":1.8e6,"uret":7.0e5,"top":2.7e6},
{"i":867,"hat":1.4e6,"ceza":1e5,"uret":7.2e5,"top":3.7e6},
{"i":869,"hat":1.6e6,"ceza":1e5,"uret":7.2e5,"top":3.9e6},
{"i":871,"hat":2.2e6,"ceza":3e5,"uret":7.1e5,"top":2.8e6},
{"i":873,"hat":2.3e6,"ceza":5e5,"uret":7.1e5,"top":4.5e6},
{"i":875,"hat":1.6e6,"ceza":1e5,"uret":7.0e5,"top":3.0e6},
{"i":877,"hat":1.1e6,"ceza":2e5,"uret":7.1e5,"top":2.2e6},
{"i":879,"hat":1.9e6,"ceza":4e5,"uret":7.2e5,"top":3.6e6},
{"i":881,"hat":1.8e6,"ceza":1.5e6,"uret":7.0e5,"top":3.4e6},
{"i":883,"hat":1.2e6,"ceza":1e5,"uret":7.1e5,"top":2.4e6},
{"i":885,"hat":1.4e6,"ceza":1e5,"uret":7.2e5,"top":2.9e6},
{"i":887,"hat":2.1e6,"ceza":3e5,"uret":7.0e5,"top":3.8e6},
{"i":889,"hat":2.0e6,"ceza":3e5,"uret":7.1e5,"top":4.0e6},
{"i":891,"hat":1.3e6,"ceza":1e5,"uret":7.2e5,"top":2.6e6},
{"i":893,"hat":1.6e6,"ceza":7e5,"uret":7.0e5,"top":4.85e6},
{"i":895,"hat":2.1e6,"ceza":1e5,"uret":7.1e5,"top":3.1e6},
{"i":897,"hat":2.2e6,"ceza":2e5,"uret":7.2e5,"top":2.6e6},
{"i":899,"hat":1.5e6,"ceza":4e5,"uret":7.0e5,"top":3.8e6},
{"i":901,"hat":1.3e6,"ceza":2.0e6,"uret":7.1e5,"top":4.75e6},
{"i":903,"hat":2.0e6,"ceza":1e5,"uret":7.2e5,"top":2.5e6},
{"i":905,"hat":1.9e6,"ceza":1e5,"uret":7.1e5,"top":3.0e6},
{"i":907,"hat":1.2e6,"ceza":3e5,"uret":7.0e5,"top":3.7e6},
{"i":909,"hat":1.5e6,"ceza":4e5,"uret":7.0e5,"top":2.2e6},
{"i":911,"hat":2.2e6,"ceza":1e5,"uret":7.2e5,"top":3.5e6},
{"i":913,"hat":2.1e6,"ceza":2e5,"uret":7.2e5,"top":4.2e6},
{"i":915,"hat":1.4e6,"ceza":5e5,"uret":7.1e5,"top":2.6e6},
{"i":917,"hat":1.2e6,"ceza":1.6e6,"uret":7.1e5,"top":2.8e6},
{"i":919,"hat":1.9e6,"ceza":1e5,"uret":7.0e5,"top":3.9e6},
{"i":921,"hat":1.8e6,"ceza":1e5,"uret":7.0e5,"top":5.7e6},
{"i":923,"hat":1.1e6,"ceza":3e5,"uret":7.2e5,"top":2.7e6},
{"i":925,"hat":1.4e6,"ceza":5e5,"uret":7.2e5,"top":6.35e6},
{"i":927,"hat":2.0e6,"ceza":1e5,"uret":7.1e5,"top":3.4e6},
{"i":929,"hat":2.0e6,"ceza":2e5,"uret":7.1e5,"top":2.4e6},
{"i":931,"hat":1.3e6,"ceza":4e5,"uret":7.0e5,"top":3.2e6},
{"i":933,"hat":0.9e6,"ceza":1.8e6,"uret":7.1e5,"top":3.5e6},
{"i":935,"hat":1.6e6,"ceza":1e5,"uret":7.2e5,"top":2.3e6},
{"i":937,"hat":1.3e6,"ceza":1e5,"uret":7.0e5,"top":2.0e6},
{"i":939,"hat":0.8e6,"ceza":3e5,"uret":7.1e5,"top":3.6e6},
{"i":941,"hat":0.6e6,"ceza":4e5,"uret":7.2e5,"top":5.0e6},
{"i":943,"hat":1.4e6,"ceza":1e5,"uret":7.0e5,"top":2.2e6},
{"i":945,"hat":1.1e6,"ceza":2e5,"uret":7.1e5,"top":2.6e6},
{"i":947,"hat":0.6e6,"ceza":5e5,"uret":7.2e5,"top":3.8e6},
{"i":949,"hat":0.7e6,"ceza":1.3e6,"uret":7.0e5,"top":3.3e6},
{"i":951,"hat":1.2e6,"ceza":1e5,"uret":7.1e5,"top":2.1e6},
{"i":953,"hat":1.4e6,"ceza":1e5,"uret":7.2e5,"top":1.9e6},
{"i":955,"hat":0.9e6,"ceza":3e5,"uret":7.0e5,"top":3.4e6},
{"i":957,"hat":0.8e6,"ceza":6e5,"uret":7.1e5,"top":3.0e6},
{"i":959,"hat":1.3e6,"ceza":1e5,"uret":7.2e5,"top":2.3e6},
{"i":961,"hat":1.6e6,"ceza":2e5,"uret":7.1e5,"top":4.2e6},
{"i":963,"hat":1.1e6,"ceza":4e5,"uret":7.0e5,"top":2.5e6},
{"i":965,"hat":1.0e6,"ceza":1.5e6,"uret":7.0e5,"top":1.4e6},
{"i":967,"hat":1.7e6,"ceza":1e5,"uret":7.2e5,"top":3.7e6},
{"i":969,"hat":1.9e6,"ceza":1e5,"uret":7.2e5,"top":3.4e6},
{"i":971,"hat":1.3e6,"ceza":3e5,"uret":7.1e5,"top":2.4e6},
{"i":973,"hat":1.5e6,"ceza":4e5,"uret":7.1e5,"top":5.4e6},
{"i":975,"hat":2.0e6,"ceza":1e5,"uret":7.0e5,"top":2.9e6},
{"i":977,"hat":2.2e6,"ceza":2e5,"uret":7.0e5,"top":2.7e6},
{"i":979,"hat":1.6e6,"ceza":5e5,"uret":7.2e5,"top":3.8e6},
{"i":981,"hat":1.7e6,"ceza":1.6e6,"uret":7.2e5,"top":4.0e6},
{"i":983,"hat":2.3e6,"ceza":1e5,"uret":7.1e5,"top":2.5e6},
{"i":985,"hat":2.4e6,"ceza":1e5,"uret":7.1e5,"top":2.9e6},
{"i":987,"hat":1.6e6,"ceza":3e5,"uret":7.0e5,"top":3.7e6},
{"i":989,"hat":1.8e6,"ceza":5e5,"uret":7.1e5,"top":3.9e6},
{"i":991,"hat":2.4e6,"ceza":1e5,"uret":7.2e5,"top":2.8e6},
{"i":993,"hat":2.5e6,"ceza":2e5,"uret":7.0e5,"top":2.6e6},
{"i":995,"hat":1.7e6,"ceza":4e5,"uret":7.1e5,"top":3.8e6},
{"i":997,"hat":1.9e6,"ceza":1.4e6,"uret":7.2e5,"top":3.5e6},
{"i":999,"hat":2.5e6,"ceza":1e5,"uret":7.1e5,"top":2.9e6},
{"i":1000,"hat":2.6e6,"ceza":2e5,"uret":7.1e5,"top":4.88e6}
]},
"encoding":{
"x":{"field":"i","type":"quantitative","scale":{"domain":[1,1000],"nice":false,"zero":false},
"axis":{"title":"İterasyonlar","values":[200,400,600,800,1000],"format":"d","labelFlush":false,"titlePadding":13}}
},
"layer":[
{"mark":{"type":"line","strokeWidth":1.8},
"encoding":{"y":{"field":"hat","type":"quantitative","title":"Maliyetler $","scale":{"domain":[0,9000000],"nice":false},"axis":{"values":[0,1000000,2000000,3000000,4000000,5000000,6000000,7000000,8000000,9000000],"format":"d","titlePadding":18}},
"color":{"datum":"Hat_Yatırım_Maliyeti","type":"nominal","title":null,"scale":{"domain":["Hat_Yatırım_Maliyeti","Elektrik_Ceza_Maliyeti","Üretim_Maliyeti","Toplam_Maliyet"],"range":["#17becf","#ff7f0e","#2ca02c","#ff0000"]}}}},
{"mark":{"type":"line","strokeWidth":1.8},
"encoding":{"y":{"field":"ceza","type":"quantitative","title":"Maliyetler $"},
"color":{"datum":"Elektrik_Ceza_Maliyeti","type":"nominal","title":null,"scale":{"domain":["Hat_Yatırım_Maliyeti","Elektrik_Ceza_Maliyeti","Üretim_Maliyeti","Toplam_Maliyet"],"range":["#17becf","#ff7f0e","#2ca02c","#ff0000"]}}}},
{"mark":{"type":"line","strokeWidth":1.8},
"encoding":{"y":{"field":"uret","type":"quantitative","title":"Maliyetler $"},
"color":{"datum":"Üretim_Maliyeti","type":"nominal","title":null,"scale":{"domain":["Hat_Yatırım_Maliyeti","Elektrik_Ceza_Maliyeti","Üretim_Maliyeti","Toplam_Maliyet"],"range":["#17becf","#ff7f0e","#2ca02c","#ff0000"]}}}},
{"mark":{"type":"line","strokeWidth":1.8},
"encoding":{"y":{"field":"top","type":"quantitative","title":"Maliyetler $"},
"color":{"datum":"Toplam_Maliyet","type":"nominal","title":null,"scale":{"domain":["Hat_Yatırım_Maliyeti","Elektrik_Ceza_Maliyeti","Üretim_Maliyeti","Toplam_Maliyet"],"range":["#17becf","#ff7f0e","#2ca02c","#ff0000"]}}}}
],
"config":{
"font":"Liberation Serif",
"view":{"stroke":"#000","strokeWidth":1.2},
"axis":{"labelFont":"Liberation Serif","titleFont":"Liberation Serif","labelFontSize":23,"titleFontSize":24,"titleFontWeight":"normal","labelColor":"#000","titleColor":"#000","domainColor":"#000","tickColor":"#000","tickSize":8,"tickWidth":1.2,"domainWidth":1.2,"grid":false,"labelPadding":8},
"legend":{"orient":"none","legendX":113,"legendY":12,"columns":2,"columnPadding":41,"rowPadding":10,"padding":9,"clipHeight":26,"labelLimit":400,"labelFont":"Liberation Serif","labelFontSize":26,"labelColor":"#000","symbolType":"stroke","symbolSize":2809,"symbolStrokeWidth":2,"labelOffset":18,"strokeColor":"#cccccc","fillColor":"rgba(255,255,255,0.8)","cornerRadius":4,"zindex":1}
}
}
